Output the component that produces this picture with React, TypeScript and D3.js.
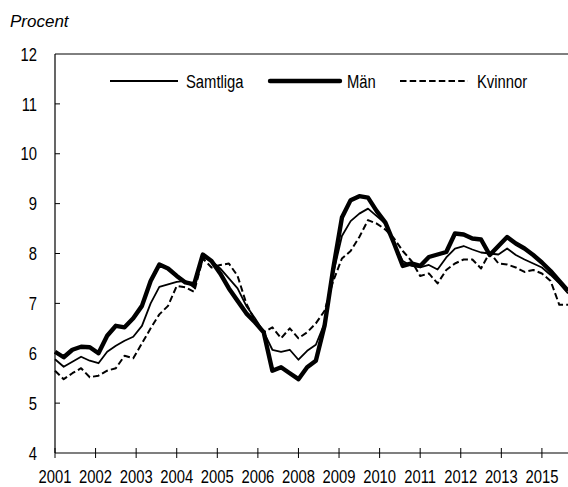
import React from "react";
import * as d3 from "d3";

// Quarterly observations (every third month), Jan 2001 onward
const samtliga = [5.88,5.73,5.83,5.93,5.85,5.8,6.03,6.15,6.25,6.33, 6.55,7.0,7.33,7.38,7.43,7.45,7.32,7.92,7.85,7.7, 7.5,7.3,6.95,6.7,6.43,6.07,6.03,6.07,5.87,6.05, 6.17,6.6,7.6,8.35,8.65,8.8,8.9,8.75,8.6,8.2, 7.85,7.75,7.72,7.77,7.68,7.92,8.1,8.15,8.08,8.02, 8.0,7.98,8.1,7.97,7.88,7.8,7.72,7.57,7.4,7.2];
const man = [6.03,5.92,6.07,6.13,6.12,6.0,6.35,6.55,6.52,6.7, 6.95,7.45,7.78,7.7,7.55,7.42,7.38,7.98,7.85,7.6, 7.3,7.05,6.8,6.62,6.42,5.65,5.72,5.6,5.48,5.72, 5.85,6.55,7.7,8.72,9.07,9.15,9.12,8.85,8.62,8.2, 7.75,7.8,7.75,7.93,7.98,8.03,8.4,8.38,8.3,8.28, 7.97,8.15,8.33,8.2,8.1,7.97,7.82,7.65,7.45,7.25];
const kvinnor = [5.65,5.48,5.6,5.7,5.52,5.55,5.65,5.7,5.95,5.9, 6.2,6.5,6.78,6.95,7.35,7.32,7.23,7.9,7.72,7.77, 7.8,7.55,7.0,6.65,6.42,6.52,6.3,6.5,6.3,6.42, 6.6,6.85,7.45,7.9,8.05,8.33,8.67,8.6,8.48,8.3, 8.05,7.85,7.55,7.6,7.4,7.67,7.8,7.88,7.88,7.7, 8.02,7.8,7.78,7.72,7.63,7.67,7.6,7.45,6.97,6.97];

// x-axis labels, one every 14 months
const tickLabels = ["2001","2002","2003","2004","2005","2006","2008","2009","2010","2011","2012","2013","2015"];
const tickStepMonths = 14;
const yTicks = [4,5,6,7,8,9,10,11,12];

const seriesDefs = [
  { name: "Samtliga", values: samtliga, width: 1.8, dash: null },
  { name: "Män", values: man, width: 4.4, dash: null },
  { name: "Kvinnor", values: kvinnor, width: 2, dash: "6.5,3.2" },
];

const W = 568, H = 487;
const left = 55, right = 568, top = 54, bottom = 453;
const FONT = "'Liberation Sans', Arial, sans-serif";

function Narrow({ x, y, anchor = "start", dy, children }: any) {
  return (
    <text transform={`translate(${x},${y}) scale(0.78,1)`} x={0} y={0} dy={dy} textAnchor={anchor}
      fontFamily={FONT} fontSize={19} fill="#000">{children}</text>
  );
}

export default function App() {
  const totalMonths = (samtliga.length - 1) * 3;
  const x = d3.scaleLinear().domain([0, totalMonths]).range([left, right]);
  const y = d3.scaleLinear().domain([4, 12]).range([bottom, top]);
  const line = d3.line<number>()
    .x((_, i) => x(i * 3))
    .y((v) => y(v));

  const legendItems = [
    { s: seriesDefs[0], x1: 110, x2: 178, tx: 186 },
    { s: seriesDefs[1], x1: 270, x2: 340, tx: 347 },
    { s: seriesDefs[2], x1: 400, x2: 468, tx: 477 },
  ];
  const legendY = 81;

  return (
    <svg width={W} height={H} style={{ position: "absolute", left: 0, top: 0, background: "#fff" }}>
      <text x={10} y={27} fontFamily={FONT} fontStyle="italic" fontSize={17} fill="#000">Procent</text>
      {/* frame */}
      <line x1={left} x2={right} y1={top} y2={top} stroke="#000" strokeWidth={1} />
      <line x1={left} x2={left} y1={top} y2={bottom} stroke="#000" strokeWidth={1.2} />
      <line x1={left} x2={right} y1={bottom} y2={bottom} stroke="#000" strokeWidth={1.2} />
      {/* y ticks */}
      {yTicks.map((t) => (
        <g key={t}>
          {t > 4 && t < 12 && <line x1={left} x2={left + 5} y1={y(t)} y2={y(t)} stroke="#000" strokeWidth={1} />}
          <Narrow x={37} y={y(t)} dy="0.35em" anchor="end">{t}</Narrow>
        </g>
      ))}
      {/* x ticks */}
      {tickLabels.map((lab, k) => {
        const xx = x(k * tickStepMonths);
        return (
          <g key={lab + k}>
            <line x1={xx} x2={xx} y1={bottom - 5} y2={bottom + 5} stroke="#000" strokeWidth={1} />
            <Narrow x={xx} y={483} anchor="middle">{lab}</Narrow>
          </g>
        );
      })}
      {/* lines */}
      {seriesDefs.map((s) => (
        <path key={s.name} d={line(s.values) || ""} fill="none" stroke="#000" strokeWidth={s.width}
          strokeDasharray={s.dash || undefined} strokeLinejoin="round" />
      ))}
      {/* legend */}
      {legendItems.map(({ s, x1, x2, tx }) => (
        <g key={s.name}>
          <line x1={x1} x2={x2} y1={legendY} y2={legendY} stroke="#000" strokeWidth={s.width}
            strokeDasharray={s.dash || undefined} strokeLinecap={s.name === "Män" ? "round" : "butt"} />
          <Narrow x={tx} y={legendY} dy="0.35em">{s.name}</Narrow>
        </g>
      ))}
    </svg>
  );
}
